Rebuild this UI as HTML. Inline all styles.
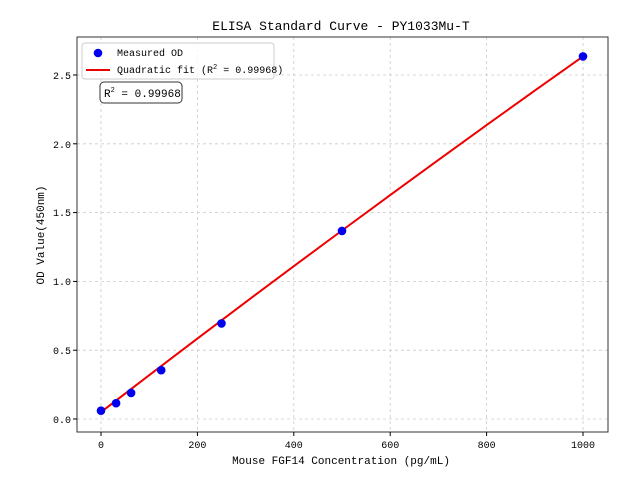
<!DOCTYPE html>
<html><head><style>body{margin:0;background:#fff}svg{display:block}text{font-family:"Liberation Mono","WenQuanYi Zen Hei",monospace;fill:#000}</style></head><body>
<svg width="640" height="480" xmlns="http://www.w3.org/2000/svg">
<rect width="640" height="480" fill="#fff"/>
<g stroke="#ccc" stroke-dasharray="3,3" stroke-width="0.8">
<line x1="101" y1="37" x2="101" y2="432"/><line x1="197.4" y1="37" x2="197.4" y2="432"/><line x1="293.8" y1="37" x2="293.8" y2="432"/><line x1="390.2" y1="37" x2="390.2" y2="432"/><line x1="486.6" y1="37" x2="486.6" y2="432"/><line x1="583" y1="37" x2="583" y2="432"/>
<line x1="77" y1="419" x2="608" y2="419"/><line x1="77" y1="350.2" x2="608" y2="350.2"/><line x1="77" y1="281.4" x2="608" y2="281.4"/><line x1="77" y1="212.6" x2="608" y2="212.6"/><line x1="77" y1="143.8" x2="608" y2="143.8"/><line x1="77" y1="75" x2="608" y2="75"/>
</g>
<rect x="77" y="37" width="531" height="395" fill="none" stroke="#333" stroke-width="1"/>
<g stroke="#000"><line x1="101" y1="432" x2="101" y2="436"/><line x1="197.4" y1="432" x2="197.4" y2="436"/><line x1="293.8" y1="432" x2="293.8" y2="436"/><line x1="390.2" y1="432" x2="390.2" y2="436"/><line x1="486.6" y1="432" x2="486.6" y2="436"/><line x1="583" y1="432" x2="583" y2="436"/>
<line x1="73" y1="419" x2="77" y2="419"/><line x1="73" y1="350.2" x2="77" y2="350.2"/><line x1="73" y1="281.4" x2="77" y2="281.4"/><line x1="73" y1="212.6" x2="77" y2="212.6"/><line x1="73" y1="143.8" x2="77" y2="143.8"/><line x1="73" y1="75" x2="77" y2="75"/></g>
<g font-size="10" text-anchor="middle"><text x="101" y="448">0</text><text x="197.4" y="448">200</text><text x="293.8" y="448">400</text><text x="390.2" y="448">600</text><text x="486.6" y="448">800</text><text x="583" y="448">1000</text></g>
<g font-size="10" text-anchor="end"><text x="71" y="423">0.0</text><text x="71" y="354">0.5</text><text x="71" y="285">1.0</text><text x="71" y="216">1.5</text><text x="71" y="148">2.0</text><text x="71" y="79">2.5</text></g>
<text x="341" y="464" font-size="11" text-anchor="middle">Mouse FGF14 Concentration (pg/mL)</text>
<text transform="translate(44,235) rotate(-90)" font-size="11" text-anchor="middle">OD Value(450nm)</text>
<text x="341" y="30" font-size="13" text-anchor="middle">ELISA Standard Curve - PY1033Mu-T</text>
<polyline fill="none" stroke="#e00" stroke-width="2" points="101,412.1 149.2,375.2 197.4,338.6 245.6,302.2 293.8,266.2 342,230.5 390.2,195.1 438.4,159.9 486.6,125.1 534.8,90.6 583,56.4"/>
<g fill="#00e"><circle cx="101" cy="410.7" r="4.3"/><circle cx="116.1" cy="403.2" r="4.3"/><circle cx="131.1" cy="392.9" r="4.3"/><circle cx="161.2" cy="370.2" r="4.3"/><circle cx="221.5" cy="323.4" r="4.3"/><circle cx="342" cy="230.9" r="4.3"/><circle cx="583" cy="56.4" r="4.3"/></g>
<rect x="82" y="43" width="192" height="36" rx="3" fill="#fff" fill-opacity="0.8" stroke="#ccc"/>
<circle cx="98" cy="53" r="4.3" fill="#00e"/>
<text x="117" y="56" font-size="10">Measured OD</text>
<line x1="86" y1="70" x2="110" y2="70" stroke="#e00" stroke-width="2"/>
<text x="117" y="73" font-size="10">Quadratic fit (R<tspan dy="-4" font-size="7">2</tspan><tspan dy="4"> = 0.99968)</tspan></text>
<rect x="100" y="82" width="82" height="21" rx="4" fill="#fff" stroke="#333"/>
<text x="104" y="97" font-size="11">R<tspan dy="-5" font-size="7">2</tspan><tspan dy="5"> = 0.99968</tspan></text>
</svg>
</body></html>
